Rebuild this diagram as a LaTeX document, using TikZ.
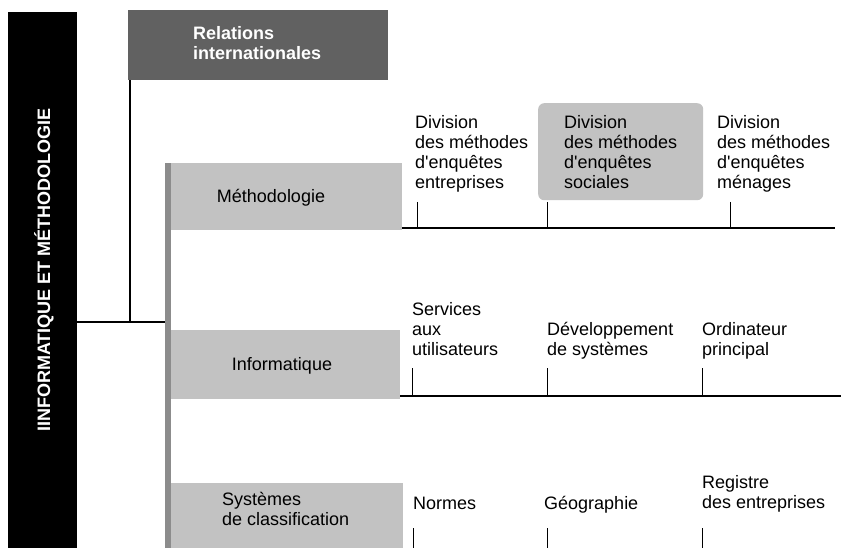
\documentclass[tikz,border=0pt]{standalone}
\usepackage{fontspec}
\setmainfont{Liberation Sans}
\begin{document}
\begin{tikzpicture}[x=1pt,y=-1pt,
  lbl/.style={inner sep=0pt, anchor=base west, align=left, font=\fontsize{18}{20}\selectfont},
  box/.style={inner sep=0pt, anchor=north west, draw=none},
  lightbox/.style={box, fill=black!24},
  ln/.style={line width=1.2pt},
  tick/.style={line width=1pt}]
\useasboundingbox (0,0) rectangle (841,548);
% left title bar
\node[box, fill=black, minimum width=69pt, minimum height=536pt] (bar) at (8,12) {};
\node[rotate=90, text=white, inner sep=0pt, font=\fontsize{18}{20}\selectfont\bfseries] (title) at (44,270) {IINFORMATIQUE ET MÉTHODOLOGIE};
% relations internationales
\node[box, fill=black!62, minimum width=260pt, minimum height=70pt] (rel) at (128,10) {};
\node[lbl, text=white, font=\fontsize{18}{20}\selectfont\bfseries] (reltxt) at (193,60) {Relations\\internationales};
% row boxes
\node[lightbox, minimum width=237pt, minimum height=67pt] (meth) at (165,163) {};
\node[lightbox, minimum width=235pt, minimum height=69pt] (info) at (165,330) {};
\node[lightbox, minimum width=238pt, minimum height=65pt] (sys) at (165,483) {};
\node[box, fill=black!45, minimum width=6pt, minimum height=385pt] (stem) at (165,163) {};
\node[lbl, anchor=base] (methtxt) at (271,203) {Méthodologie};
\node[lbl, anchor=base] (infotxt) at (282,370) {Informatique};
\node[lbl] (systxt) at (222,525) {Systèmes\\de classification};
% connectors from title
\coordinate (j) at (130,322);
\draw[ln] (bar.east |- j) -- (stem.west |- j);
\draw[ln] (rel.south west -| j) -- (j);
% row 1
\node[box, fill=black!24, rounded corners=6pt, minimum width=165pt, minimum height=97pt] (soc) at (538,103) {};
\coordinate (r1end) at (835,228);
\draw[ln] (meth.south east |- r1end) -- (r1end);
\coordinate (t1a) at (417,202);
\coordinate (t1b) at (547,202);
\coordinate (t1c) at (730,202);
\foreach \t in {t1a,t1b,t1c} \draw[tick] (\t) -- (\t |- r1end);
\node[lbl] (d1) at (415,189) {Division\\des méthodes\\d\textquotesingle enquêtes\\entreprises};
\node[lbl] (d2) at (564,189) {Division\\des méthodes\\d\textquotesingle enquêtes\\sociales};
\node[lbl] (d3) at (717,189) {Division\\des méthodes\\d\textquotesingle enquêtes\\ménages};
% row 2
\coordinate (r2end) at (841,396);
\draw[ln] (info.south east |- r2end) -- (r2end);
\coordinate (t2a) at (412,368);
\coordinate (t2b) at (547,368);
\coordinate (t2c) at (702,368);
\foreach \t in {t2a,t2b,t2c} \draw[tick] (\t) -- (\t |- r2end);
\node[lbl] (s1) at (412,355) {Services\\aux\\utilisateurs};
\node[lbl] (s2) at (547,355) {Développement\\de systèmes};
\node[lbl] (s3) at (702,355) {Ordinateur\\principal};
% row 3
\coordinate (r3end) at (841,548);
\coordinate (t3a) at (413,528);
\coordinate (t3b) at (547,528);
\coordinate (t3c) at (702,528);
\foreach \t in {t3a,t3b,t3c} \draw[tick] (\t) -- (\t |- r3end);
\node[lbl] (n1) at (413,509) {Normes};
\node[lbl] (n2) at (544,509) {Géographie};
\node[lbl] (n3) at (702,508) {Registre\\des entreprises};
\end{tikzpicture}
\end{document}
